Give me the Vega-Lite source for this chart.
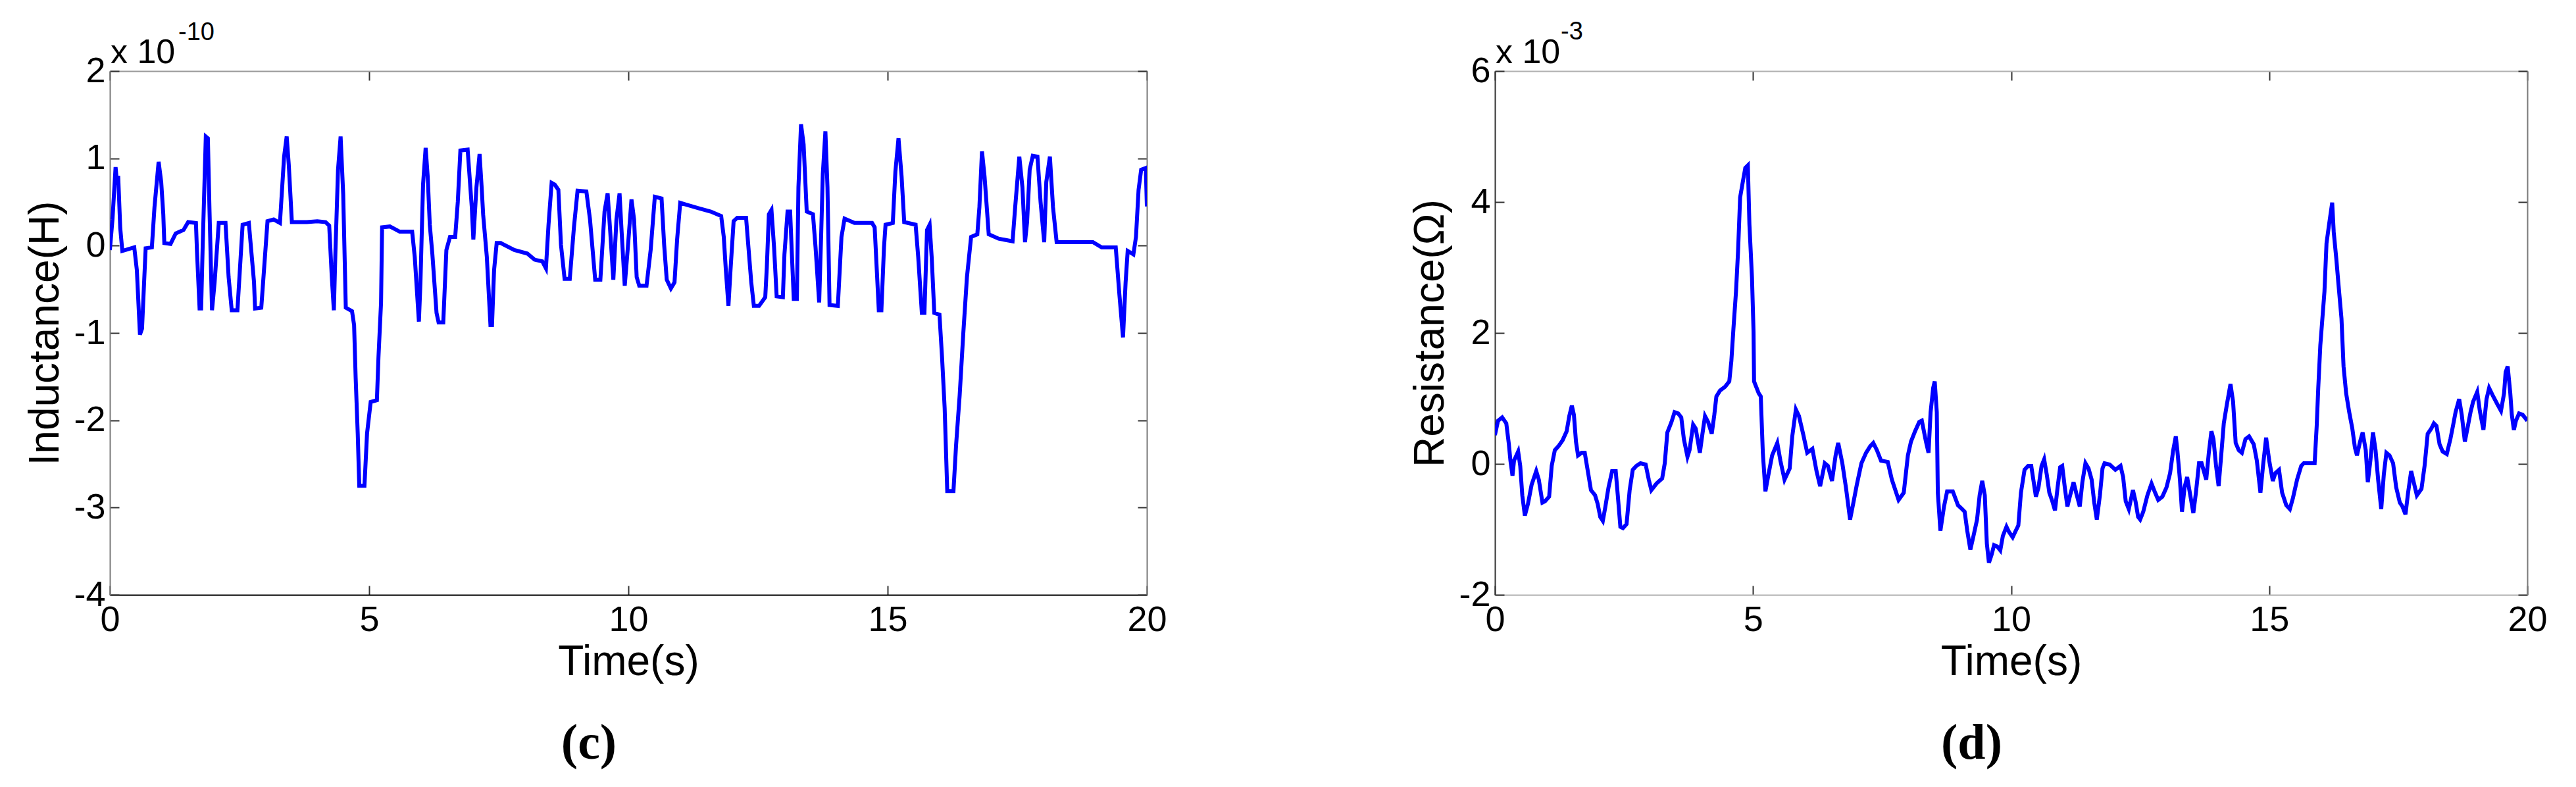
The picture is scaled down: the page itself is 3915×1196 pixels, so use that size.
{
"$schema": "https://vega.github.io/schema/vega-lite/v6.json",
"background": "white",
"padding": {"left": 37, "top": 30, "right": 10, "bottom": 10},
"config": {
  "view": {"stroke": null},
  "font": "Liberation Sans",
  "axis": {"grid": false, "labelFont": "Liberation Sans", "labelFontSize": 54, "labelColor": "black", "titleFont": "Liberation Sans", "titleFontSize": 64, "titleFontWeight": "normal", "titleColor": "black", "domainColor": "#333333", "domainWidth": 2, "tickColor": "#333333", "tickWidth": 2, "tickSize": -14, "labelFlush": false, "labelOverlap": false, "labelBound": false, "labelExpr": "datum.value < 0 ? '-' + abs(datum.value) : '' + datum.value"},
  "title": {"color": "black"}
},
"datasets": {
"inductance": [
{"t":0.00,"L":-0.05},{"t":0.05,"L":0.30},{"t":0.11,"L":0.90},{"t":0.14,"L":0.70},{"t":0.16,"L":0.80},{"t":0.20,"L":0.20},{"t":0.24,"L":-0.06},{"t":0.47,"L":-0.02},{"t":0.52,"L":-0.28},{"t":0.58,"L":-1.02},{"t":0.62,"L":-0.95},{"t":0.66,"L":-0.42},{"t":0.69,"L":-0.03},{"t":0.81,"L":-0.02},{"t":0.86,"L":0.44},{"t":0.94,"L":0.96},{"t":0.99,"L":0.73},{"t":1.03,"L":0.36},{"t":1.05,"L":0.03},{"t":1.17,"L":0.02},{"t":1.27,"L":0.14},{"t":1.42,"L":0.18},{"t":1.51,"L":0.27},{"t":1.66,"L":0.26},{"t":1.68,"L":-0.07},{"t":1.73,"L":-0.72},{"t":1.76,"L":-0.72},{"t":1.79,"L":0.0},{"t":1.85,"L":1.25},{"t":1.89,"L":1.23},{"t":1.92,"L":0.44},{"t":1.97,"L":-0.74},{"t":2.02,"L":-0.42},{"t":2.10,"L":0.26},{"t":2.23,"L":0.26},{"t":2.29,"L":-0.36},{"t":2.35,"L":-0.74},{"t":2.46,"L":-0.74},{"t":2.56,"L":0.24},{"t":2.68,"L":0.26},{"t":2.78,"L":-0.42},{"t":2.80,"L":-0.72},{"t":2.92,"L":-0.71},{"t":3.04,"L":0.28},{"t":3.16,"L":0.30},{"t":3.28,"L":0.26},{"t":3.36,"L":1.02},{"t":3.41,"L":1.25},{"t":3.45,"L":0.93},{"t":3.51,"L":0.27},{"t":3.80,"L":0.27},{"t":4.00,"L":0.28},{"t":4.16,"L":0.27},{"t":4.23,"L":0.23},{"t":4.28,"L":-0.36},{"t":4.32,"L":-0.74},{"t":4.35,"L":-0.07},{"t":4.40,"L":0.87},{"t":4.45,"L":1.25},{"t":4.50,"L":0.59},{"t":4.55,"L":-0.71},{"t":4.67,"L":-0.75},{"t":4.71,"L":-0.91},{"t":4.74,"L":-1.51},{"t":4.78,"L":-2.15},{"t":4.81,"L":-2.75},{"t":4.91,"L":-2.75},{"t":4.96,"L":-2.15},{"t":5.03,"L":-1.79},{"t":5.15,"L":-1.77},{"t":5.18,"L":-1.28},{"t":5.23,"L":-0.65},{"t":5.25,"L":0.21},{"t":5.40,"L":0.22},{"t":5.59,"L":0.16},{"t":5.83,"L":0.16},{"t":5.88,"L":-0.13},{"t":5.96,"L":-0.87},{"t":5.99,"L":-0.42},{"t":6.04,"L":0.70},{"t":6.09,"L":1.12},{"t":6.13,"L":0.79},{"t":6.17,"L":0.24},{"t":6.22,"L":-0.10},{"t":6.30,"L":-0.77},{"t":6.34,"L":-0.88},{"t":6.43,"L":-0.88},{"t":6.49,"L":-0.05},{"t":6.56,"L":0.10},{"t":6.66,"L":0.10},{"t":6.71,"L":0.50},{"t":6.76,"L":1.09},{"t":6.90,"L":1.10},{"t":6.98,"L":0.44},{"t":7.01,"L":0.07},{"t":7.07,"L":0.67},{"t":7.13,"L":1.05},{"t":7.17,"L":0.67},{"t":7.20,"L":0.35},{"t":7.27,"L":-0.13},{"t":7.34,"L":-0.91},{"t":7.37,"L":-0.91},{"t":7.41,"L":-0.28},{"t":7.46,"L":0.03},{"t":7.54,"L":0.03},{"t":7.80,"L":-0.05},{"t":8.05,"L":-0.09},{"t":8.19,"L":-0.16},{"t":8.34,"L":-0.18},{"t":8.41,"L":-0.26},{"t":8.46,"L":0.24},{"t":8.52,"L":0.72},{"t":8.58,"L":0.70},{"t":8.65,"L":0.64},{"t":8.70,"L":0.01},{"t":8.77,"L":-0.38},{"t":8.87,"L":-0.38},{"t":8.95,"L":0.21},{"t":9.02,"L":0.63},{"t":9.19,"L":0.62},{"t":9.26,"L":0.30},{"t":9.36,"L":-0.39},{"t":9.46,"L":-0.39},{"t":9.54,"L":0.39},{"t":9.60,"L":0.60},{"t":9.65,"L":0.16},{"t":9.71,"L":-0.39},{"t":9.77,"L":0.30},{"t":9.83,"L":0.60},{"t":9.87,"L":0.16},{"t":9.93,"L":-0.46},{"t":9.99,"L":-0.02},{"t":10.06,"L":0.53},{"t":10.11,"L":0.30},{"t":10.16,"L":-0.36},{"t":10.21,"L":-0.46},{"t":10.35,"L":-0.46},{"t":10.43,"L":-0.05},{"t":10.51,"L":0.56},{"t":10.64,"L":0.54},{"t":10.69,"L":0.01},{"t":10.74,"L":-0.39},{"t":10.82,"L":-0.49},{"t":10.89,"L":-0.42},{"t":10.94,"L":0.07},{"t":11.00,"L":0.49},{"t":11.11,"L":0.47},{"t":11.35,"L":0.43},{"t":11.59,"L":0.39},{"t":11.79,"L":0.34},{"t":11.84,"L":0.10},{"t":11.88,"L":-0.28},{"t":11.93,"L":-0.69},{"t":11.97,"L":-0.28},{"t":12.03,"L":0.28},{"t":12.10,"L":0.32},{"t":12.27,"L":0.32},{"t":12.32,"L":-0.05},{"t":12.37,"L":-0.42},{"t":12.42,"L":-0.69},{"t":12.52,"L":-0.69},{"t":12.64,"L":-0.59},{"t":12.67,"L":-0.25},{"t":12.71,"L":0.36},{"t":12.76,"L":0.41},{"t":12.81,"L":-0.02},{"t":12.86,"L":-0.58},{"t":12.98,"L":-0.59},{"t":13.01,"L":-0.10},{"t":13.07,"L":0.39},{"t":13.12,"L":0.39},{"t":13.16,"L":-0.19},{"t":13.19,"L":-0.61},{"t":13.25,"L":-0.61},{"t":13.28,"L":0.67},{"t":13.33,"L":1.39},{"t":13.38,"L":1.16},{"t":13.44,"L":0.39},{"t":13.56,"L":0.36},{"t":13.61,"L":-0.02},{"t":13.68,"L":-0.65},{"t":13.72,"L":0.16},{"t":13.75,"L":0.82},{"t":13.80,"L":1.31},{"t":13.84,"L":0.67},{"t":13.88,"L":-0.68},{"t":14.04,"L":-0.69},{"t":14.11,"L":0.10},{"t":14.17,"L":0.31},{"t":14.36,"L":0.26},{"t":14.70,"L":0.26},{"t":14.75,"L":0.21},{"t":14.83,"L":-0.74},{"t":14.88,"L":-0.74},{"t":14.93,"L":-0.02},{"t":14.96,"L":0.24},{"t":15.10,"L":0.26},{"t":15.15,"L":0.85},{"t":15.21,"L":1.23},{"t":15.27,"L":0.79},{"t":15.32,"L":0.27},{"t":15.54,"L":0.24},{"t":15.59,"L":-0.13},{"t":15.66,"L":-0.77},{"t":15.71,"L":-0.77},{"t":15.76,"L":0.18},{"t":15.81,"L":0.24},{"t":15.85,"L":-0.13},{"t":15.90,"L":-0.77},{"t":16.00,"L":-0.79},{"t":16.05,"L":-1.28},{"t":16.10,"L":-1.86},{"t":16.15,"L":-2.81},{"t":16.27,"L":-2.81},{"t":16.32,"L":-2.29},{"t":16.39,"L":-1.71},{"t":16.46,"L":-1.00},{"t":16.53,"L":-0.36},{"t":16.61,"L":0.10},{"t":16.73,"L":0.13},{"t":16.77,"L":0.44},{"t":16.82,"L":1.08},{"t":16.87,"L":0.79},{"t":16.95,"L":0.13},{"t":17.14,"L":0.08},{"t":17.41,"L":0.05},{"t":17.46,"L":0.44},{"t":17.54,"L":1.02},{"t":17.60,"L":0.67},{"t":17.65,"L":0.04},{"t":17.69,"L":0.27},{"t":17.74,"L":0.87},{"t":17.80,"L":1.03},{"t":17.89,"L":1.02},{"t":17.95,"L":0.50},{"t":18.02,"L":0.04},{"t":18.06,"L":0.73},{"t":18.13,"L":1.02},{"t":18.19,"L":0.44},{"t":18.26,"L":0.04},{"t":18.96,"L":0.04},{"t":19.13,"L":-0.02},{"t":19.40,"L":-0.02},{"t":19.47,"L":-0.56},{"t":19.54,"L":-1.05},{"t":19.59,"L":-0.42},{"t":19.63,"L":-0.06},{"t":19.74,"L":-0.10},{"t":19.79,"L":0.10},{"t":19.84,"L":0.64},{"t":19.89,"L":0.87},{"t":19.98,"L":0.89},{"t":20.00,"L":0.45}
],
"resistance": [
{"t":0.00,"R":0.44},{"t":0.06,"R":0.66},{"t":0.14,"R":0.71},{"t":0.22,"R":0.62},{"t":0.27,"R":0.30},{"t":0.30,"R":0.05},{"t":0.34,"R":-0.18},{"t":0.37,"R":0.05},{"t":0.45,"R":0.19},{"t":0.49,"R":-0.03},{"t":0.53,"R":-0.48},{"t":0.58,"R":-0.79},{"t":0.64,"R":-0.61},{"t":0.71,"R":-0.32},{"t":0.80,"R":-0.11},{"t":0.85,"R":-0.24},{"t":0.92,"R":-0.59},{"t":0.97,"R":-0.57},{"t":1.05,"R":-0.50},{"t":1.10,"R":-0.03},{"t":1.16,"R":0.21},{"t":1.23,"R":0.27},{"t":1.31,"R":0.36},{"t":1.39,"R":0.50},{"t":1.44,"R":0.73},{"t":1.49,"R":0.89},{"t":1.53,"R":0.75},{"t":1.57,"R":0.34},{"t":1.61,"R":0.13},{"t":1.68,"R":0.17},{"t":1.74,"R":0.17},{"t":1.81,"R":-0.16},{"t":1.86,"R":-0.40},{"t":1.94,"R":-0.48},{"t":1.99,"R":-0.61},{"t":2.04,"R":-0.81},{"t":2.09,"R":-0.87},{"t":2.14,"R":-0.65},{"t":2.20,"R":-0.36},{"t":2.27,"R":-0.11},{"t":2.34,"R":-0.11},{"t":2.38,"R":-0.48},{"t":2.43,"R":-0.96},{"t":2.48,"R":-0.98},{"t":2.55,"R":-0.92},{"t":2.61,"R":-0.40},{"t":2.67,"R":-0.09},{"t":2.74,"R":-0.03},{"t":2.82,"R":0.01},{"t":2.92,"R":-0.01},{"t":2.98,"R":-0.24},{"t":3.03,"R":-0.40},{"t":3.13,"R":-0.30},{"t":3.24,"R":-0.22},{"t":3.29,"R":0.01},{"t":3.34,"R":0.48},{"t":3.42,"R":0.64},{"t":3.48,"R":0.79},{"t":3.55,"R":0.77},{"t":3.61,"R":0.71},{"t":3.66,"R":0.38},{"t":3.73,"R":0.11},{"t":3.77,"R":0.21},{"t":3.84,"R":0.60},{"t":3.89,"R":0.54},{"t":3.97,"R":0.17},{"t":4.02,"R":0.46},{"t":4.07,"R":0.73},{"t":4.13,"R":0.64},{"t":4.20,"R":0.46},{"t":4.25,"R":0.75},{"t":4.29,"R":1.03},{"t":4.36,"R":1.12},{"t":4.46,"R":1.18},{"t":4.54,"R":1.26},{"t":4.58,"R":1.57},{"t":4.62,"R":2.06},{"t":4.67,"R":2.63},{"t":4.71,"R":3.25},{"t":4.75,"R":4.07},{"t":4.80,"R":4.30},{"t":4.85,"R":4.52},{"t":4.90,"R":4.56},{"t":4.93,"R":3.66},{"t":4.98,"R":2.84},{"t":5.01,"R":2.02},{"t":5.02,"R":1.26},{"t":5.11,"R":1.08},{"t":5.15,"R":1.03},{"t":5.19,"R":0.17},{"t":5.24,"R":-0.42},{"t":5.29,"R":-0.20},{"t":5.37,"R":0.13},{"t":5.47,"R":0.32},{"t":5.53,"R":0.05},{"t":5.61,"R":-0.24},{"t":5.71,"R":-0.07},{"t":5.76,"R":0.42},{"t":5.83,"R":0.83},{"t":5.89,"R":0.73},{"t":5.97,"R":0.46},{"t":6.05,"R":0.17},{"t":6.15,"R":0.23},{"t":6.23,"R":-0.11},{"t":6.30,"R":-0.34},{"t":6.39,"R":0.01},{"t":6.45,"R":-0.03},{"t":6.53,"R":-0.26},{"t":6.60,"R":0.13},{"t":6.65,"R":0.32},{"t":6.73,"R":0.01},{"t":6.80,"R":-0.36},{"t":6.88,"R":-0.85},{"t":6.94,"R":-0.61},{"t":7.01,"R":-0.32},{"t":7.10,"R":0.01},{"t":7.19,"R":0.17},{"t":7.27,"R":0.27},{"t":7.33,"R":0.32},{"t":7.40,"R":0.21},{"t":7.48,"R":0.05},{"t":7.61,"R":0.03},{"t":7.69,"R":-0.24},{"t":7.82,"R":-0.55},{"t":7.92,"R":-0.44},{"t":8.00,"R":0.13},{"t":8.06,"R":0.34},{"t":8.14,"R":0.50},{"t":8.22,"R":0.64},{"t":8.27,"R":0.66},{"t":8.35,"R":0.34},{"t":8.40,"R":0.17},{"t":8.44,"R":0.79},{"t":8.49,"R":1.16},{"t":8.52,"R":1.26},{"t":8.56,"R":0.79},{"t":8.58,"R":-0.44},{"t":8.63,"R":-1.02},{"t":8.70,"R":-0.65},{"t":8.76,"R":-0.42},{"t":8.87,"R":-0.42},{"t":8.97,"R":-0.63},{"t":9.05,"R":-0.69},{"t":9.10,"R":-0.73},{"t":9.15,"R":-1.02},{"t":9.21,"R":-1.31},{"t":9.26,"R":-1.14},{"t":9.34,"R":-0.85},{"t":9.39,"R":-0.48},{"t":9.44,"R":-0.26},{"t":9.49,"R":-0.48},{"t":9.53,"R":-1.22},{"t":9.57,"R":-1.51},{"t":9.62,"R":-1.39},{"t":9.67,"R":-1.24},{"t":9.73,"R":-1.26},{"t":9.79,"R":-1.32},{"t":9.84,"R":-1.10},{"t":9.91,"R":-0.96},{"t":9.96,"R":-1.04},{"t":10.03,"R":-1.12},{"t":10.09,"R":-1.02},{"t":10.14,"R":-0.94},{"t":10.19,"R":-0.44},{"t":10.26,"R":-0.09},{"t":10.33,"R":-0.03},{"t":10.39,"R":-0.03},{"t":10.43,"R":-0.24},{"t":10.48,"R":-0.50},{"t":10.53,"R":-0.36},{"t":10.59,"R":-0.03},{"t":10.64,"R":0.07},{"t":10.69,"R":-0.16},{"t":10.74,"R":-0.44},{"t":10.79,"R":-0.55},{"t":10.85,"R":-0.71},{"t":10.90,"R":-0.36},{"t":10.95,"R":-0.05},{"t":10.99,"R":-0.03},{"t":11.04,"R":-0.36},{"t":11.09,"R":-0.65},{"t":11.13,"R":-0.52},{"t":11.21,"R":-0.28},{"t":11.26,"R":-0.44},{"t":11.33,"R":-0.65},{"t":11.38,"R":-0.28},{"t":11.44,"R":0.01},{"t":11.50,"R":-0.07},{"t":11.56,"R":-0.24},{"t":11.61,"R":-0.59},{"t":11.66,"R":-0.85},{"t":11.72,"R":-0.48},{"t":11.77,"R":-0.07},{"t":11.81,"R":0.01},{"t":11.91,"R":-0.01},{"t":12.02,"R":-0.09},{"t":12.12,"R":-0.03},{"t":12.17,"R":-0.20},{"t":12.22,"R":-0.57},{"t":12.28,"R":-0.69},{"t":12.36,"R":-0.40},{"t":12.41,"R":-0.57},{"t":12.46,"R":-0.81},{"t":12.50,"R":-0.85},{"t":12.56,"R":-0.73},{"t":12.64,"R":-0.48},{"t":12.72,"R":-0.30},{"t":12.79,"R":-0.44},{"t":12.85,"R":-0.55},{"t":12.93,"R":-0.50},{"t":13.01,"R":-0.36},{"t":13.08,"R":-0.14},{"t":13.14,"R":0.21},{"t":13.19,"R":0.42},{"t":13.22,"R":0.21},{"t":13.27,"R":-0.24},{"t":13.31,"R":-0.73},{"t":13.36,"R":-0.36},{"t":13.41,"R":-0.20},{"t":13.48,"R":-0.52},{"t":13.53,"R":-0.75},{"t":13.58,"R":-0.44},{"t":13.64,"R":0.01},{"t":13.69,"R":0.01},{"t":13.78,"R":-0.24},{"t":13.83,"R":0.17},{"t":13.88,"R":0.50},{"t":13.92,"R":0.38},{"t":13.97,"R":-0.03},{"t":14.02,"R":-0.34},{"t":14.07,"R":0.13},{"t":14.12,"R":0.62},{"t":14.18,"R":0.91},{"t":14.25,"R":1.22},{"t":14.30,"R":0.95},{"t":14.35,"R":0.32},{"t":14.41,"R":0.21},{"t":14.47,"R":0.17},{"t":14.54,"R":0.38},{"t":14.61,"R":0.42},{"t":14.70,"R":0.30},{"t":14.76,"R":0.05},{"t":14.83,"R":-0.44},{"t":14.88,"R":-0.03},{"t":14.94,"R":0.40},{"t":15.00,"R":0.05},{"t":15.07,"R":-0.26},{"t":15.12,"R":-0.14},{"t":15.19,"R":-0.09},{"t":15.25,"R":-0.44},{"t":15.33,"R":-0.63},{"t":15.40,"R":-0.69},{"t":15.46,"R":-0.52},{"t":15.54,"R":-0.24},{"t":15.62,"R":-0.03},{"t":15.67,"R":0.01},{"t":15.88,"R":0.01},{"t":15.92,"R":0.58},{"t":15.95,"R":1.16},{"t":15.99,"R":1.81},{"t":16.03,"R":2.22},{"t":16.07,"R":2.63},{"t":16.11,"R":3.37},{"t":16.16,"R":3.66},{"t":16.22,"R":3.99},{"t":16.25,"R":3.54},{"t":16.30,"R":3.13},{"t":16.34,"R":2.76},{"t":16.40,"R":2.22},{"t":16.44,"R":1.49},{"t":16.49,"R":1.08},{"t":16.55,"R":0.79},{"t":16.61,"R":0.54},{"t":16.66,"R":0.25},{"t":16.70,"R":0.13},{"t":16.76,"R":0.34},{"t":16.81,"R":0.48},{"t":16.87,"R":0.21},{"t":16.91,"R":-0.28},{"t":16.96,"R":0.05},{"t":17.01,"R":0.48},{"t":17.06,"R":0.21},{"t":17.11,"R":-0.24},{"t":17.17,"R":-0.69},{"t":17.22,"R":-0.16},{"t":17.27,"R":0.17},{"t":17.33,"R":0.13},{"t":17.40,"R":0.01},{"t":17.46,"R":-0.36},{"t":17.53,"R":-0.59},{"t":17.58,"R":-0.65},{"t":17.64,"R":-0.77},{"t":17.69,"R":-0.44},{"t":17.75,"R":-0.11},{"t":17.80,"R":-0.28},{"t":17.86,"R":-0.48},{"t":17.95,"R":-0.38},{"t":18.01,"R":-0.03},{"t":18.07,"R":0.46},{"t":18.14,"R":0.54},{"t":18.19,"R":0.62},{"t":18.24,"R":0.58},{"t":18.30,"R":0.30},{"t":18.36,"R":0.19},{"t":18.44,"R":0.15},{"t":18.51,"R":0.38},{"t":18.56,"R":0.58},{"t":18.61,"R":0.79},{"t":18.68,"R":0.99},{"t":18.73,"R":0.75},{"t":18.79,"R":0.34},{"t":18.84,"R":0.54},{"t":18.90,"R":0.79},{"t":18.95,"R":0.95},{"t":19.03,"R":1.10},{"t":19.08,"R":0.81},{"t":19.15,"R":0.52},{"t":19.21,"R":0.99},{"t":19.26,"R":1.16},{"t":19.34,"R":1.03},{"t":19.42,"R":0.91},{"t":19.49,"R":0.81},{"t":19.55,"R":1.08},{"t":19.58,"R":1.40},{"t":19.62,"R":1.49},{"t":19.67,"R":1.08},{"t":19.70,"R":0.75},{"t":19.74,"R":0.52},{"t":19.78,"R":0.66},{"t":19.84,"R":0.77},{"t":19.91,"R":0.75},{"t":20.00,"R":0.66}
]
},
"spacing": 529,
"bounds": "flush",
"hconcat": [
{
  "width": 1576, "height": 796,
  "title": {"text": "(c)", "orient": "bottom", "frame": "group", "dx": -60, "font": "Liberation Serif", "fontSize": 76, "fontWeight": "bold", "color": "black", "offset": 55},
  "layer": [
    {"data": {"name": "inductance"},
     "mark": {"type": "line", "color": "#0000ff", "strokeWidth": 6, "clip": true},
     "encoding": {
       "x": {"field": "t", "type": "quantitative", "scale": {"domain": [0, 20], "nice": false, "zero": false}, "axis": {"orient": "bottom", "values": [0, 5, 10, 15, 20], "title": "Time(s)", "labelPadding": 25, "titlePadding": 5, "domainColor": "#000000"}},
       "y": {"field": "L", "type": "quantitative", "scale": {"domain": [-4, 2], "nice": false, "zero": false}, "axis": {"orient": "left", "values": [-4, -3, -2, -1, 0, 1, 2], "title": "Inductance(H)", "labelPadding": 21, "titlePadding": 10, "domainColor": "#7a7a7a"}}
     }},
    {"data": {"values": [{}]},
     "mark": {"type": "text", "text": "x 10", "align": "left", "baseline": "alphabetic", "dx": 1, "dy": -12, "fontSize": 52, "font": "Liberation Sans", "color": "black"},
     "encoding": {
       "x": {"datum": 0, "type": "quantitative", "axis": {"orient": "top", "values": [0, 5, 10, 15, 20], "labels": false, "title": null, "domainColor": "#9a9a9a"}},
       "y": {"datum": 2, "type": "quantitative", "axis": {"orient": "right", "values": [-4, -3, -2, -1, 0, 1, 2], "labels": false, "title": null, "domainColor": "#7a7a7a"}}
     }},
    {"data": {"values": [{}]},
     "mark": {"type": "text", "text": "-10", "align": "left", "baseline": "alphabetic", "dx": 104, "dy": -47, "fontSize": 38, "font": "Liberation Sans", "color": "black"},
     "encoding": {
       "x": {"datum": 0, "type": "quantitative", "axis": null},
       "y": {"datum": 2, "type": "quantitative", "axis": null}
     }}
  ],
  "resolve": {"axis": {"x": "independent", "y": "independent"}}
},
{
  "width": 1569, "height": 796,
  "title": {"text": "(d)", "orient": "bottom", "frame": "group", "dx": -60, "font": "Liberation Serif", "fontSize": 76, "fontWeight": "bold", "color": "black", "offset": 55},
  "layer": [
    {"data": {"name": "resistance"},
     "mark": {"type": "line", "color": "#0000ff", "strokeWidth": 6, "clip": true},
     "encoding": {
       "x": {"field": "t", "type": "quantitative", "scale": {"domain": [0, 20], "nice": false, "zero": false}, "axis": {"orient": "bottom", "values": [0, 5, 10, 15, 20], "title": "Time(s)", "labelPadding": 25, "titlePadding": 5, "domainColor": "#b0b0b0"}},
       "y": {"field": "R", "type": "quantitative", "scale": {"domain": [-2, 6], "nice": false, "zero": false}, "axis": {"orient": "left", "values": [-2, 0, 2, 4, 6], "title": "Resistance(Ω)", "labelPadding": 21, "titlePadding": 10, "domainColor": "#333333"}}
     }},
    {"data": {"values": [{}]},
     "mark": {"type": "text", "text": "x 10", "align": "left", "baseline": "alphabetic", "dx": 1, "dy": -12, "fontSize": 52, "font": "Liberation Sans", "color": "black"},
     "encoding": {
       "x": {"datum": 0, "type": "quantitative", "axis": {"orient": "top", "values": [0, 5, 10, 15, 20], "labels": false, "title": null, "domainColor": "#b0b0b0"}},
       "y": {"datum": 6, "type": "quantitative", "axis": {"orient": "right", "values": [-2, 0, 2, 4, 6], "labels": false, "title": null, "domainColor": "#7a7a7a"}}
     }},
    {"data": {"values": [{}]},
     "mark": {"type": "text", "text": "-3", "align": "left", "baseline": "alphabetic", "dx": 100, "dy": -48, "fontSize": 38, "font": "Liberation Sans", "color": "black"},
     "encoding": {
       "x": {"datum": 0, "type": "quantitative", "axis": null},
       "y": {"datum": 6, "type": "quantitative", "axis": null}
     }}
  ],
  "resolve": {"axis": {"x": "independent", "y": "independent"}}
}
]
}
